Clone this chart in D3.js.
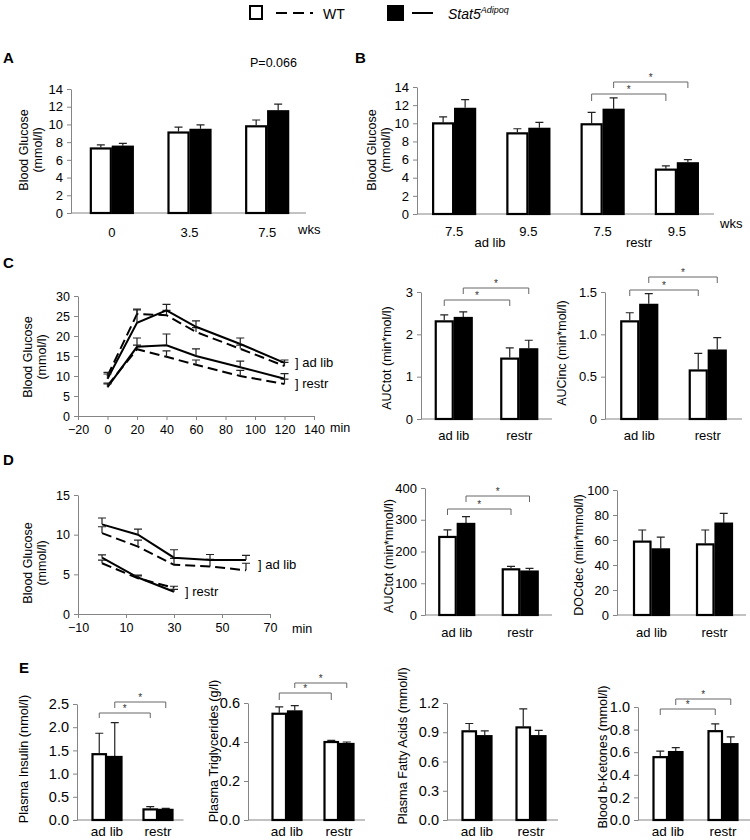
<!DOCTYPE html>
<html>
<head>
<meta charset="utf-8">
<script src="https://cdn.jsdelivr.net/npm/d3@7"></script>
<style>
  body { margin: 0; background: #fff; }
  text { font-family: "Liberation Sans", Arial, sans-serif; }
</style>
</head>
<body>
<svg id="fig" width="750" height="840"></svg>
<script>
// ---- data ----
// A: blood glucose over weeks
var weeksA = ["0", "3.5", "7.5"];
var glucA_wt = [7.4, 9.2, 9.9];
var glucA_wtErr = [0.3, 0.5, 0.6];
var glucA_ko = [7.6, 9.5, 11.6];
var glucA_koErr = [0.25, 0.45, 0.7];

// B: ad lib vs restricted
var weeksB = ["7.5a", "9.5a", "7.5r", "9.5r"];
var weeksB_labels = ["7.5", "9.5", "7.5", "9.5"];
var glucB_wt = [10.1, 9.0, 10.0, 5.0];
var glucB_wtErr = [0.6, 0.4, 1.2, 0.3];
var glucB_ko = [11.7, 9.5, 11.6, 5.7];
var glucB_koErr = [0.9, 0.6, 1.2, 0.3];

var diets = ["ad lib", "restr"];

// C: GTT curves
var gttTime = [0, 20, 40, 60, 90, 120];
var gttAdlib_wt = [10.0, 25.5, 25.2, 21.0, 16.8, 12.5];
var gttAdlib_wtErr = [0.9, 1.2, 1.2, 1.1, 0.9, 0.9];
var gttAdlib_ko = [9.3, 23.3, 26.4, 22.3, 18.0, 13.3];
var gttAdlib_koErr = [1.2, 3.2, 1.5, 1.5, 1.5, 0.7];
var gttRestr_wt = [7.6, 16.7, 14.8, 12.8, 10.0, 8.0];
var gttRestr_wtErr = [0.6, 1.0, 1.5, 1.2, 1.4, 1.2];
var gttRestr_ko = [7.2, 17.3, 17.7, 15.0, 12.2, 9.3];
var gttRestr_koErr = [0.8, 2.2, 2.8, 1.8, 1.5, 1.3];

var aucTot_wt = [2.33, 1.45], aucTot_wtErr = [0.13, 0.23];
var aucTot_ko = [2.41, 1.67], aucTot_koErr = [0.12, 0.19];
var aucInc_wt = [1.165, 0.585], aucInc_wtErr = [0.09, 0.19];
var aucInc_ko = [1.36, 0.82], aucInc_koErr = [0.12, 0.14];

// D: ITT curves
var ittTimeAdlib = [0, 15, 30, 45, 60];
var ittTimeRestr = [0, 15, 30];
var ittAdlib_wt = [10.2, 8.5, 6.2, 6.0, 5.5];
var ittAdlib_wtErr = [0.8, 0.8, 0.8, 0.9, 0.9];
var ittAdlib_ko = [11.3, 10.0, 7.1, 6.8, 6.8];
var ittAdlib_koErr = [0.8, 0.7, 1.0, 0.7, 0.6];
var ittRestr_wt = [6.4, 4.5, 3.3];
var ittRestr_wtErr = [0.4, 0.3, 0.2];
var ittRestr_ko = [7.1, 4.6, 2.8];
var ittRestr_koErr = [0.35, 0.3, 0.3];

var ittAuc_wt = [249, 147], ittAuc_wtErr = [19, 6];
var ittAuc_ko = [290, 140], ittAuc_koErr = [20, 7];
var docDec_wt = [59.5, 57.3], docDec_wtErr = [8.5, 10.7];
var docDec_ko = [53.3, 73.9], docDec_koErr = [9, 7.4];

// E: plasma parameters
var insulin_wt = [1.44, 0.25], insulin_wtErr = [0.43, 0.04];
var insulin_ko = [1.38, 0.24], insulin_koErr = [0.72, 0.01];
var trig_wt = [0.55, 0.405], trig_wtErr = [0.03, 0.003];
var trig_ko = [0.562, 0.395], trig_koErr = [0.025, 0.005];
var ffa_wt = [0.92, 0.96], ffa_wtErr = [0.07, 0.18];
var ffa_ko = [0.87, 0.87], ffa_koErr = [0.045, 0.05];
var keto_wt = [0.565, 0.795], keto_wtErr = [0.045, 0.055];
var keto_ko = [0.61, 0.68], keto_koErr = [0.03, 0.055];

// ---- drawing ----
var svg = d3.select("#fig");
var grey = "#858585";
var f1 = d => d3.format(".1f")(d);
var f0 = d => d3.format("d")(d);

function yTitle(lines, x, cy, fs) {
  lines.forEach(function (t, i) {
    svg.append("text")
      .attr("transform", `translate(${x + i * 14},${cy}) rotate(-90)`)
      .attr("text-anchor", "middle")
      .attr("dominant-baseline", "central")
      .attr("font-size", fs || 12.5)
      .text(t);
  });
}

function styleAxis(sel, fs) {
  sel.select(".domain").attr("stroke", grey);
  sel.selectAll(".tick line").attr("stroke", grey);
  sel.selectAll(".tick text").attr("fill", "#000").attr("font-size", fs)
    .attr("font-family", '"Liberation Sans", Arial, sans-serif');
}

function barPanel(o) {
  var g = svg.append("g");
  var y = d3.scaleLinear().domain([0, o.yMax]).range([o.y0, o.yTop]);
  var x = d3.scaleBand().domain(o.cats).range(o.xr);

  var ya = g.append("g").attr("transform", `translate(${o.ax},0)`)
    .call(d3.axisLeft(y).tickValues(o.ticks).tickFormat(o.fmt)
      .tickSizeInner(4).tickSizeOuter(0).tickPadding(4));
  styleAxis(ya, o.fs);

  g.append("line")
    .attr("x1", o.ax).attr("x2", o.xr[1])
    .attr("y1", o.y0).attr("y2", o.y0)
    .attr("stroke", grey);

  var series = [
    { v: o.wt, e: o.wtErr, fill: "#fff", dx: -o.bw },
    { v: o.ko, e: o.koErr, fill: "#000", dx: 0 }
  ];
  var cx = (d, s) => x(d) + x.bandwidth() / 2 + s.dx + o.bw / 2;

  series.forEach(function (s) {
    g.selectAll(null).data(o.cats).enter().append("path")
      .attr("d", function (d, i) {
        var c = cx(d, s), t = y(s.v[i]), e = y(s.v[i] + s.e[i]);
        return `M${c},${t}V${e}M${c - 4},${e}H${c + 4}`;
      })
      .attr("stroke", "#222").attr("stroke-width", 1.2).attr("fill", "none");

    g.selectAll(null).data(o.cats).enter().append("rect")
      .attr("x", d => x(d) + x.bandwidth() / 2 + s.dx + 1)
      .attr("y", (d, i) => y(s.v[i]) + 1)
      .attr("width", o.bw - 2)
      .attr("height", (d, i) => y(0) - y(s.v[i]) - 1)
      .attr("fill", s.fill).attr("stroke", "#000").attr("stroke-width", 2.2);
  });

  g.selectAll(null).data(o.cats).enter().append("text")
    .attr("x", d => x(d) + x.bandwidth() / 2)
    .attr("y", o.labY)
    .attr("text-anchor", "middle")
    .attr("font-size", o.fs2 || o.fs)
    .text((d, i) => o.labels ? o.labels[i] : d);

  (o.br || []).forEach(function (b) {
    var s = series[b[0]];
    var xa = cx(o.cats[b[1]], s), xb = cx(o.cats[b[2]], s);
    var yl = b[3], tl = b[4];
    g.append("path")
      .attr("d", `M${xa},${yl + tl}V${yl}H${xb}V${yl + tl}`)
      .attr("stroke", "#666").attr("stroke-width", 1).attr("fill", "none");
    g.append("text")
      .attr("x", (xa + xb) / 2).attr("y", yl - 1.5)
      .attr("text-anchor", "middle").attr("font-size", 10).attr("fill", "#333")
      .text("*");
  });
  return { x: x, y: y };
}

function linePanel(o) {
  var g = svg.append("g");
  var x = d3.scaleLinear().domain(o.xd).range([o.ax, o.xEnd]);
  var y = d3.scaleLinear().domain([0, o.yMax]).range([o.y0, o.yTop]);

  var ya = g.append("g").attr("transform", `translate(${o.ax},0)`)
    .call(d3.axisLeft(y).tickValues(o.yTicks).tickSizeInner(4).tickSizeOuter(0).tickPadding(4));
  styleAxis(ya, o.fs);
  var xa = g.append("g").attr("transform", `translate(0,${o.y0})`)
    .call(d3.axisBottom(x).tickValues(o.xTicks).tickSizeInner(4).tickSizeOuter(0).tickPadding(5));
  styleAxis(xa, o.fs);

  var line = d3.line().x(d => x(d[0])).y(d => y(d[1]));
  o.series.forEach(function (s) {
    var pts = s.t.map((t, i) => [t, s.v[i]]);
    g.append("path").attr("d", line(pts))
      .attr("fill", "none").attr("stroke", "#000").attr("stroke-width", 2)
      .attr("stroke-dasharray", s.dash ? "10,5" : null);
    g.selectAll(null).data(pts).enter().append("path")
      .attr("d", function (d, i) {
        var c = x(d[0]), t = y(d[1]), e = y(d[1] + s.e[i]);
        return `M${c},${t}V${e}M${c - 4},${e}H${c + 4}`;
      })
      .attr("stroke", "#222").attr("stroke-width", 1.2).attr("fill", "none");
  });
}

function label(t, x, y, fs, extra) {
  var el = svg.append("text").attr("x", x).attr("y", y).attr("font-size", fs).text(t);
  if (extra) extra(el);
  return el;
}
var bold = el => el.attr("font-weight", "bold");

// legend
svg.append("rect").attr("x", 250).attr("y", 6).attr("width", 12).attr("height", 13)
  .attr("fill", "#fff").attr("stroke", "#000").attr("stroke-width", 2);
svg.append("line").attr("x1", 276).attr("x2", 313).attr("y1", 13).attr("y2", 13)
  .attr("stroke", "#000").attr("stroke-width", 2).attr("stroke-dasharray", "11,6");
label("WT", 323, 19, 14);
svg.append("rect").attr("x", 387).attr("y", 5).attr("width", 17).attr("height", 16).attr("fill", "#000");
svg.append("line").attr("x1", 412).attr("x2", 433).attr("y1", 13).attr("y2", 13)
  .attr("stroke", "#000").attr("stroke-width", 2);
var st = label("Stat5", 448, 19, 14, el => el.attr("font-style", "italic"));
st.append("tspan").attr("dy", -6).attr("font-size", 9).text("Adipoq");

// panel letters
label("A", 3, 63, 15, bold);
label("B", 355, 63, 15, bold);
label("C", 3, 268, 15, bold);
label("D", 3, 465, 15, bold);
label("E", 19, 673, 15, bold);

// A
barPanel({ cats: weeksA, wt: glucA_wt, wtErr: glucA_wtErr, ko: glucA_ko, koErr: glucA_koErr,
  ax: 71, xr: [73, 306], y0: 213, yTop: 89, yMax: 14, ticks: d3.range(0, 15, 2), fmt: f0,
  bw: 22, fs: 13, labY: 237 });
yTitle(["Blood Glucose", "(mmol/l)"], 24, 150);
label("P=0.066", 250, 67, 12.5);
label("wks", 298, 234, 13);

// B
barPanel({ cats: weeksB, labels: weeksB_labels, wt: glucB_wt, wtErr: glucB_wtErr, ko: glucB_ko, koErr: glucB_koErr,
  ax: 417, xr: [417, 714], y0: 214, yTop: 87, yMax: 14, ticks: d3.range(0, 15, 2), fmt: f0,
  bw: 22, fs: 13, labY: 236,
  br: [[0, 2, 3, 94, 7], [1, 2, 3, 82, 6]] });
yTitle(["Blood Glucose", "(mmol/l)"], 372, 150);
label("wks", 720, 228, 13);
label("ad lib", 490, 247, 13, el => el.attr("text-anchor", "middle"));
label("restr", 639, 247, 13, el => el.attr("text-anchor", "middle"));

// C line
linePanel({ ax: 78, xEnd: 314, xd: [-20, 140], xTicks: d3.range(-20, 141, 20),
  y0: 416, yTop: 296, yMax: 30, yTicks: d3.range(0, 31, 5), fs: 12.5,
  series: [
    { t: gttTime, v: gttAdlib_wt, e: gttAdlib_wtErr, dash: true },
    { t: gttTime, v: gttAdlib_ko, e: gttAdlib_koErr },
    { t: gttTime, v: gttRestr_wt, e: gttRestr_wtErr, dash: true },
    { t: gttTime, v: gttRestr_ko, e: gttRestr_koErr }
  ] });
yTitle(["Blood Glucose", "(mmol/l)"], 28, 357);
label("] ad lib", 295, 367, 13);
label("] restr", 295, 388, 13);
label("min", 330, 432, 12.5);

barPanel({ cats: diets, wt: aucTot_wt, wtErr: aucTot_wtErr, ko: aucTot_ko, koErr: aucTot_koErr,
  ax: 421, xr: [421, 552], y0: 419, yTop: 292, yMax: 3, ticks: [0, 1, 2, 3], fmt: f0,
  bw: 19, fs: 13, labY: 440,
  br: [[0, 0, 1, 300, 6], [1, 0, 1, 288, 6]] });
yTitle(["AUCtot (min*mol/l)"], 387, 358, 12.5);

barPanel({ cats: diets, wt: aucInc_wt, wtErr: aucInc_wtErr, ko: aucInc_ko, koErr: aucInc_koErr,
  ax: 605, xr: [605, 742], y0: 419, yTop: 292, yMax: 1.5, ticks: [0, 0.5, 1, 1.5],
  fmt: d => d === 0 ? "0" : f1(d),
  bw: 19, fs: 13, labY: 440,
  br: [[0, 0, 1, 290, 6], [1, 0, 1, 277, 6]] });
yTitle(["AUCinc (min*mol/l)"], 562, 353, 12.5);

// D line
linePanel({ ax: 78, xEnd: 270, xd: [-10, 70], xTicks: d3.range(-10, 71, 20),
  y0: 614, yTop: 495, yMax: 15, yTicks: [0, 5, 10, 15], fs: 12.5,
  series: [
    { t: ittTimeAdlib, v: ittAdlib_wt, e: ittAdlib_wtErr, dash: true },
    { t: ittTimeAdlib, v: ittAdlib_ko, e: ittAdlib_koErr },
    { t: ittTimeRestr, v: ittRestr_wt, e: ittRestr_wtErr, dash: true },
    { t: ittTimeRestr, v: ittRestr_ko, e: ittRestr_koErr }
  ] });
yTitle(["Blood Glucose", "(mmol/l)"], 28, 563);
label("] ad lib", 258, 569, 13);
label("] restr", 185, 596, 13);
label("min", 292, 633, 12.5);

barPanel({ cats: diets, wt: ittAuc_wt, wtErr: ittAuc_wtErr, ko: ittAuc_ko, koErr: ittAuc_koErr,
  ax: 425, xr: [425, 552], y0: 615, yTop: 488, yMax: 400, ticks: d3.range(0, 401, 100), fmt: f0,
  bw: 18.5, fs: 13, labY: 637,
  br: [[0, 0, 1, 509, 6], [1, 0, 1, 496, 6]] });
yTitle(["AUCtot (min*mmol/l)"], 389, 556, 12.5);

barPanel({ cats: diets, wt: docDec_wt, wtErr: docDec_wtErr, ko: docDec_ko, koErr: docDec_koErr,
  ax: 617, xr: [620, 746], y0: 615, yTop: 490, yMax: 100, ticks: d3.range(0, 101, 20), fmt: f0,
  bw: 18.5, fs: 13, labY: 637 });
yTitle(["DOCdec (min*mmol/l)"], 579, 555, 12.5);

// E
barPanel({ cats: diets, wt: insulin_wt, wtErr: insulin_wtErr, ko: insulin_ko, koErr: insulin_koErr,
  ax: 77, xr: [81.5, 183.5], y0: 820, yTop: 704, yMax: 2.5, ticks: d3.range(0, 2.51, 0.5), fmt: f1,
  bw: 15.5, fs: 14.5, fs2: 13.5, labY: 836,
  br: [[0, 0, 1, 713, 5], [1, 0, 1, 702, 6]] });
yTitle(["Plasma Insulin (nmol/l)"], 24, 759, 12.7);

barPanel({ cats: diets, wt: trig_wt, wtErr: trig_wtErr, ko: trig_ko, koErr: trig_koErr,
  ax: 248, xr: [261, 365], y0: 820, yTop: 703, yMax: 0.6, ticks: [0, 0.2, 0.4, 0.6], fmt: f1,
  bw: 15.5, fs: 14.5, fs2: 13.5, labY: 836,
  br: [[0, 0, 1, 693, 7], [1, 0, 1, 683, 5]] });
yTitle(["Plasma Triglycerides (g/l)"], 214, 751, 12.7);

barPanel({ cats: diets, wt: ffa_wt, wtErr: ffa_wtErr, ko: ffa_ko, koErr: ffa_koErr,
  ax: 447, xr: [450, 558], y0: 820, yTop: 703, yMax: 1.2, ticks: [0, 0.3, 0.6, 0.9, 1.2], fmt: f1,
  bw: 15.5, fs: 14.5, fs2: 13.5, labY: 836 });
yTitle(["Plasma Fatty Acids (mmol/l)"], 403, 746, 12.7);

barPanel({ cats: diets, wt: keto_wt, wtErr: keto_wtErr, ko: keto_ko, koErr: keto_koErr,
  ax: 638, xr: [640.5, 750.5], y0: 820, yTop: 707, yMax: 1.0, ticks: d3.range(0, 1.01, 0.2), fmt: f1,
  bw: 15.5, fs: 14.5, fs2: 13.5, labY: 836,
  br: [[0, 0, 1, 709, 6], [1, 0, 1, 699, 6]] });
yTitle(["Blood b-Ketones (mmol/l)"], 603, 757, 12.7);
</script>
</body>
</html>
